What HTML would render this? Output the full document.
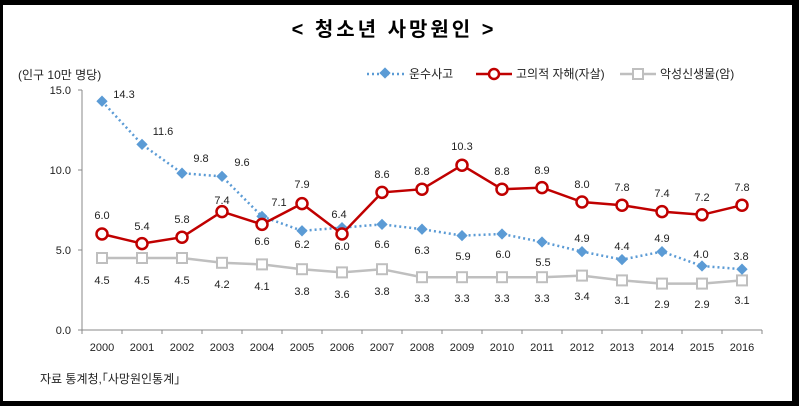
<!DOCTYPE html>
<html><head><meta charset="utf-8"><style>
body{margin:0;background:#000;}
svg{display:block}
text{font-family:"Liberation Sans","Noto Sans CJK KR",sans-serif;}
</style></head><body>
<svg width="799" height="406" viewBox="0 0 799 406" xmlns="http://www.w3.org/2000/svg">
<rect x="0" y="0" width="799" height="406" fill="#000"/>
<rect x="3" y="5" width="789" height="396" fill="#fff"/>
<text x="394" y="36" font-size="20" font-weight="bold" letter-spacing="3" text-anchor="middle" fill="#000">&lt; 청소년 사망원인 &gt;</text>
<text x="18" y="79" font-size="12" fill="#222">(인구 10만 명당)</text>
<g font-size="11" fill="#222" text-anchor="end">
<text x="71" y="94">15.0</text><text x="71" y="174">10.0</text><text x="71" y="254">5.0</text><text x="71" y="334">0.0</text>
</g>
<g stroke="#888" stroke-width="1">
<line x1="82" y1="90" x2="82" y2="330"/>
<line x1="78" y1="90" x2="82" y2="90"/><line x1="78" y1="170" x2="82" y2="170"/><line x1="78" y1="250" x2="82" y2="250"/><line x1="78" y1="330" x2="82" y2="330"/>
<line x1="82" y1="330" x2="762" y2="330"/>
<path d="M82 330v4M122 330v4M162 330v4M202 330v4M242 330v4M282 330v4M322 330v4M362 330v4M402 330v4M442 330v4M482 330v4M522 330v4M562 330v4M602 330v4M642 330v4M682 330v4M722 330v4M762 330v4"/>
</g>
<g font-size="11" fill="#222" text-anchor="middle">
<text x="102" y="351">2000</text><text x="142" y="351">2001</text><text x="182" y="351">2002</text><text x="222" y="351">2003</text><text x="262" y="351">2004</text><text x="302" y="351">2005</text><text x="342" y="351">2006</text><text x="382" y="351">2007</text><text x="422" y="351">2008</text><text x="462" y="351">2009</text><text x="502" y="351">2010</text><text x="542" y="351">2011</text><text x="582" y="351">2012</text><text x="622" y="351">2013</text><text x="662" y="351">2014</text><text x="702" y="351">2015</text><text x="742" y="351">2016</text>
</g>
<line x1="367" y1="74" x2="405" y2="74" stroke="#5b9bd5" stroke-width="2.5" stroke-dasharray="2,3"/>
<rect x="381" y="69" width="8" height="8" fill="#5b9bd5" transform="rotate(45 385 73)"/>
<text x="409" y="78" font-size="12" fill="#222">운수사고</text>
<line x1="476" y1="74" x2="512" y2="74" stroke="#c00000" stroke-width="2.5"/>
<circle cx="494" cy="74" r="5" fill="#fff" stroke="#c00000" stroke-width="2.5"/>
<text x="516" y="78" font-size="12" fill="#222">고의적 자해(자살)</text>
<line x1="620" y1="74" x2="656" y2="74" stroke="#bfbfbf" stroke-width="2.5"/>
<rect x="633" y="69" width="10" height="10" fill="#fff" stroke="#bfbfbf" stroke-width="2"/>
<text x="660" y="78" font-size="12" fill="#222">악성신생물(암)</text>

<polyline points="102,258 142,258 182,258 222,262.8 262,264.4 302,269.2 342,272.4 382,269.2 422,277.2 462,277.2 502,277.2 542,277.2 582,275.6 622,280.4 662,283.6 702,283.6 742,280.4" fill="none" stroke="#bfbfbf" stroke-width="2.5"/>
<g fill="#fff" stroke="#bfbfbf" stroke-width="2">
<rect x="97" y="253" width="10" height="10"/><rect x="137" y="253" width="10" height="10"/><rect x="177" y="253" width="10" height="10"/><rect x="217" y="257.8" width="10" height="10"/><rect x="257" y="259.4" width="10" height="10"/><rect x="297" y="264.2" width="10" height="10"/><rect x="337" y="267.4" width="10" height="10"/><rect x="377" y="264.2" width="10" height="10"/><rect x="417" y="272.2" width="10" height="10"/><rect x="457" y="272.2" width="10" height="10"/><rect x="497" y="272.2" width="10" height="10"/><rect x="537" y="272.2" width="10" height="10"/><rect x="577" y="270.6" width="10" height="10"/><rect x="617" y="275.4" width="10" height="10"/><rect x="657" y="278.6" width="10" height="10"/><rect x="697" y="278.6" width="10" height="10"/><rect x="737" y="275.4" width="10" height="10"/>
</g>
<g font-size="11" fill="#222" text-anchor="middle">
<text x="102" y="284">4.5</text><text x="142" y="284">4.5</text><text x="182" y="284">4.5</text><text x="222" y="288">4.2</text><text x="262" y="290">4.1</text><text x="302" y="295">3.8</text><text x="342" y="298">3.6</text><text x="382" y="295">3.8</text><text x="422" y="302">3.3</text><text x="462" y="302">3.3</text><text x="502" y="302">3.3</text><text x="542" y="302">3.3</text><text x="582" y="300">3.4</text><text x="622" y="304">3.1</text><text x="662" y="308">2.9</text><text x="702" y="308">2.9</text><text x="742" y="304">3.1</text>
</g>

<polyline points="102,101.2 142,144.4 182,173.2 222,176.4 262,216.4 302,230.8 342,227.6 382,224.4 422,229.2 462,235.6 502,234 542,242 582,251.6 622,259.6 662,251.6 702,266 742,269.2" fill="none" stroke="#5b9bd5" stroke-width="2.5" stroke-dasharray="2,3"/>
<g fill="#5b9bd5">
<rect x="98" y="97.2" width="8" height="8" transform="rotate(45 102 101.2)"/><rect x="138" y="140.4" width="8" height="8" transform="rotate(45 142 144.4)"/><rect x="178" y="169.2" width="8" height="8" transform="rotate(45 182 173.2)"/><rect x="218" y="172.4" width="8" height="8" transform="rotate(45 222 176.4)"/><rect x="258" y="212.4" width="8" height="8" transform="rotate(45 262 216.4)"/><rect x="298" y="226.8" width="8" height="8" transform="rotate(45 302 230.8)"/><rect x="338" y="223.6" width="8" height="8" transform="rotate(45 342 227.6)"/><rect x="378" y="220.4" width="8" height="8" transform="rotate(45 382 224.4)"/><rect x="418" y="225.2" width="8" height="8" transform="rotate(45 422 229.2)"/><rect x="458" y="231.6" width="8" height="8" transform="rotate(45 462 235.6)"/><rect x="498" y="230" width="8" height="8" transform="rotate(45 502 234)"/><rect x="538" y="238" width="8" height="8" transform="rotate(45 542 242)"/><rect x="578" y="247.6" width="8" height="8" transform="rotate(45 582 251.6)"/><rect x="618" y="255.6" width="8" height="8" transform="rotate(45 622 259.6)"/><rect x="658" y="247.6" width="8" height="8" transform="rotate(45 662 251.6)"/><rect x="698" y="262" width="8" height="8" transform="rotate(45 702 266)"/><rect x="738" y="265.2" width="8" height="8" transform="rotate(45 742 269.2)"/>
</g>

<polyline points="102,234 142,243.6 182,237.2 222,211.6 262,224.4 302,203.6 342,234 382,192.4 422,189.2 462,165.2 502,189.2 542,187.6 582,202 622,205.2 662,211.6 702,214.8 742,205.2" fill="none" stroke="#c00000" stroke-width="2.5"/>
<g fill="#fff" stroke="#c00000" stroke-width="2.5">
<circle cx="102" cy="234" r="5.5"/><circle cx="142" cy="243.6" r="5.5"/><circle cx="182" cy="237.2" r="5.5"/><circle cx="222" cy="211.6" r="5.5"/><circle cx="262" cy="224.4" r="5.5"/><circle cx="302" cy="203.6" r="5.5"/><circle cx="342" cy="234" r="5.5"/><circle cx="382" cy="192.4" r="5.5"/><circle cx="422" cy="189.2" r="5.5"/><circle cx="462" cy="165.2" r="5.5"/><circle cx="502" cy="189.2" r="5.5"/><circle cx="542" cy="187.6" r="5.5"/><circle cx="582" cy="202" r="5.5"/><circle cx="622" cy="205.2" r="5.5"/><circle cx="662" cy="211.6" r="5.5"/><circle cx="702" cy="214.8" r="5.5"/><circle cx="742" cy="205.2" r="5.5"/>
</g>

<g font-size="11" fill="#222" text-anchor="middle">
<text x="124" y="98">14.3</text><text x="163" y="135">11.6</text><text x="201" y="162">9.8</text><text x="242" y="166">9.6</text><text x="279" y="206">7.1</text><text x="302" y="248">6.2</text><text x="339" y="218">6.4</text><text x="382" y="248">6.6</text><text x="422" y="254">6.3</text><text x="463" y="260">5.9</text><text x="503" y="258">6.0</text><text x="543" y="266">5.5</text><text x="582" y="242">4.9</text><text x="622" y="250">4.4</text><text x="662" y="242">4.9</text><text x="701" y="258">4.0</text><text x="741" y="260">3.8</text>
<text x="102" y="219">6.0</text><text x="142" y="230">5.4</text><text x="182" y="223">5.8</text><text x="222" y="204">7.4</text><text x="262" y="245">6.6</text><text x="302" y="188">7.9</text><text x="342" y="250">6.0</text><text x="382" y="178">8.6</text><text x="422" y="175">8.8</text><text x="462" y="150">10.3</text><text x="502" y="175">8.8</text><text x="542" y="174">8.9</text><text x="582" y="188">8.0</text><text x="622" y="191">7.8</text><text x="662" y="197">7.4</text><text x="702" y="201">7.2</text><text x="742" y="191">7.8</text>
</g>
<text x="40" y="383" font-size="12" fill="#222">자료 통계청,｢사망원인통계｣</text>
</svg>
</body></html>
